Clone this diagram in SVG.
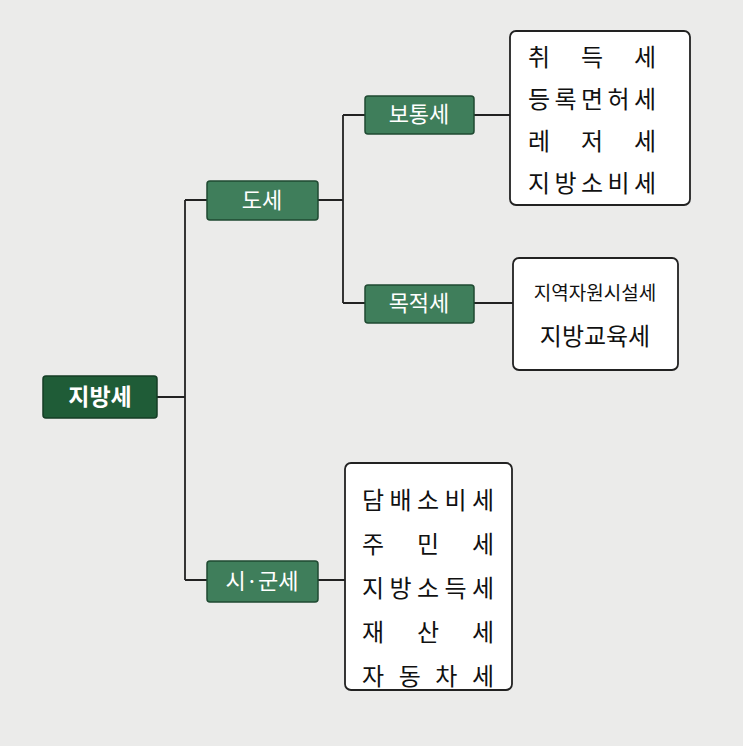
<svg xmlns="http://www.w3.org/2000/svg" width="743" height="746" viewBox="0 0 743 746">
<style>
.g{fill:#3f7e5b;stroke:#1f4a32;stroke-width:1.5}
.gd{fill:#1f5c37;stroke:#143d25;stroke-width:1.5}
.w{fill:#fff;stroke:#222;stroke-width:1.8}
.t{font-family:"Noto Sans CJK KR",sans-serif;fill:#fff;font-size:22px;text-anchor:middle}
.k{font-family:"Noto Sans CJK KR",sans-serif;fill:#111;font-size:24px}
.c{fill:none;stroke:#222;stroke-width:1.8}
</style>
<rect width="743" height="746" fill="#ebebea"/>
<g id="connectors">
<path class="c" d="M157 397H185M185 200V580M185 200H207M185 580H207M318 200H343M343 115V303M343 115H365M343 303H365M474 115H510M474 303H513M318 580H345"/>
</g>
<g id="n-jibangse"><rect class="gd" x="43" y="376" width="114" height="42" rx="3"/><text class="t" x="100" y="405" style="font-weight:bold;font-size:23px">지방세</text></g>
<g id="n-dose"><rect class="g" x="207" y="181" width="111" height="39" rx="3"/><text class="t" x="262" y="208">도세</text></g>
<g id="n-sigunse"><rect class="g" x="207" y="561" width="111" height="41" rx="3"/><text class="t" x="262" y="589">시·군세</text></g>
<g id="n-botong"><rect class="g" x="365" y="96" width="109" height="38" rx="3"/><text class="t" x="419" y="122">보통세</text></g>
<g id="n-mokjeok"><rect class="g" x="365" y="285" width="109" height="38" rx="3"/><text class="t" x="419" y="311">목적세</text></g>
<g id="n-list1"><rect class="w" x="510" y="31" width="180" height="174" rx="6"/>
<text class="k" x="528" y="66" textLength="128" lengthAdjust="spacing">취득세</text>
<text class="k" x="528" y="108" textLength="128" lengthAdjust="spacing">등록면허세</text>
<text class="k" x="528" y="150" textLength="128" lengthAdjust="spacing">레저세</text>
<text class="k" x="528" y="192" textLength="128" lengthAdjust="spacing">지방소비세</text></g>
<g id="n-list2"><rect class="w" x="513" y="258" width="165" height="112" rx="6"/>
<text class="k" x="595" y="300" style="font-size:19px" text-anchor="middle">지역자원시설세</text>
<text class="k" x="595" y="345" text-anchor="middle">지방교육세</text></g>
<g id="n-list3"><rect class="w" x="345" y="463" width="167" height="227" rx="6"/>
<text class="k" x="362" y="509" textLength="132" lengthAdjust="spacing">담배소비세</text>
<text class="k" x="362" y="553" textLength="132" lengthAdjust="spacing">주민세</text>
<text class="k" x="362" y="597" textLength="132" lengthAdjust="spacing">지방소득세</text>
<text class="k" x="362" y="641" textLength="132" lengthAdjust="spacing">재산세</text>
<text class="k" x="362" y="685" textLength="132" lengthAdjust="spacing">자동차세</text></g>
</svg>
